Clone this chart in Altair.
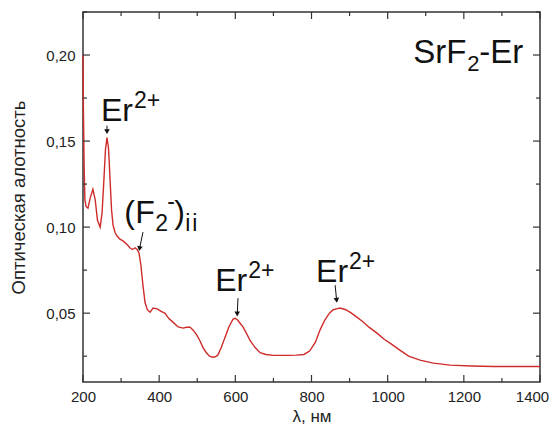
import altair as alt
import pandas as pd

# ---- spectrum data (nm, optical density) ----
wl = [200, 201, 203, 205, 208, 213, 219, 226, 232, 238, 245, 250, 255, 259, 263, 267, 271, 275,
      279, 284, 289, 297, 305, 315, 323, 330, 337, 342, 347, 352, 357, 363, 369, 376, 384, 395,
      405, 415, 425, 436, 450, 463, 472, 481, 490, 499, 507, 515, 524, 532, 539, 546, 554, 563,
      573, 583, 594, 600, 606, 613, 620, 630, 639, 652, 665, 680, 700, 720, 740, 760, 780, 795,
      810, 822, 835, 847, 857, 866, 875, 890, 905, 919, 935, 950, 972, 990, 1010, 1032, 1055,
      1085, 1120, 1164, 1220, 1280, 1340, 1400]
od = [0.200, 0.170, 0.135, 0.116, 0.112, 0.111, 0.117, 0.122, 0.116, 0.104, 0.100, 0.108, 0.128,
      0.145, 0.152, 0.146, 0.128, 0.110, 0.101, 0.097, 0.095, 0.093, 0.092, 0.090, 0.088, 0.087,
      0.088, 0.087, 0.085, 0.078, 0.067, 0.056, 0.052, 0.0505, 0.053, 0.0525, 0.051, 0.050, 0.047,
      0.0448, 0.042, 0.0413, 0.0418, 0.0419, 0.040, 0.0372, 0.034, 0.030, 0.027, 0.025, 0.0245,
      0.0245, 0.0256, 0.030, 0.036, 0.042, 0.0465, 0.047, 0.046, 0.044, 0.042, 0.038, 0.034,
      0.030, 0.027, 0.026, 0.0255, 0.0255, 0.0255, 0.0256, 0.026, 0.028, 0.033, 0.040, 0.046,
      0.050, 0.052, 0.0525, 0.053, 0.052, 0.050, 0.0477, 0.045, 0.042, 0.0384, 0.035, 0.032,
      0.0285, 0.025, 0.0227, 0.021, 0.0198, 0.0193, 0.019, 0.019, 0.019]

# ---- axis ticks ----
x_major = [200, 400, 600, 800, 1000, 1200, 1400]
x_minor = [300, 500, 700, 900, 1100, 1300]
y_major = [0.05, 0.10, 0.15, 0.20]
y_minor = [0.025, 0.075, 0.125, 0.175, 0.225]

# ---- annotation anchors (data units) ----
lab_name = ["er1", "f2", "er2", "er3", "title"]
lab_x = [247, 308, 547, 812, 1067]
lab_y = [0.1616, 0.1023, 0.0628, 0.068, 0.1953]

# ---- arrows (tail -> head, data units) ----
arr_x1 = [263, 357.5, 607, 862]
arr_y1 = [0.1590, 0.0971, 0.0587, 0.0663]
arr_x2 = [263, 348.5, 605, 866]
arr_y2 = [0.1555, 0.0875, 0.0495, 0.0575]
arr_angle = [0, 11, 0, 353]

FONT = "Liberation Sans"
RED = "#cf2b2b"
W, H = 457, 370
xs = alt.Scale(domain=[200, 1400], nice=False)
ys = alt.Scale(domain=[0.01, 0.225], nice=False)

spec = pd.DataFrame({"wl": wl, "od": od})
line = alt.Chart(spec).mark_line(color=RED, strokeWidth=1.4).encode(
    x=alt.X("wl:Q", scale=xs, title="λ, нм",
            axis=alt.Axis(values=x_major, format="d", ticks=False, domain=False, grid=False,
                          labelFontSize=15, labelFont=FONT, labelColor="#222",
                          labelPadding=7, labelFlush=False, labelOverlap=False,
                          labelOffset=alt.expr("datum.value == 1400 ? -8 : 0"),
                          titleFont=FONT, titleFontSize=17, titleFontWeight="normal",
                          titleColor="#222", titlePadding=4)),
    y=alt.Y("od:Q", scale=ys, title="Оптическая алотность",
            axis=alt.Axis(values=y_major, ticks=False, domain=False, grid=False,
                          labelExpr="replace(format(datum.value, '.2f'), '.', ',')",
                          labelFontSize=15, labelFont=FONT, labelColor="#222",
                          labelPadding=8, labelFlush=False,
                          titleFont=FONT, titleFontSize=18.5, titleFontWeight="normal",
                          titleColor="#222", titlePadding=17)),
)

def xticks(vals, length):
    d = pd.DataFrame({"t": vals})
    base = alt.Chart(d).mark_rule(color="#333", strokeWidth=1.2)
    bottom = base.encode(x=alt.X("t:Q", scale=xs), y=alt.value(H), y2=alt.value(H - length))
    top = base.encode(x=alt.X("t:Q", scale=xs), y=alt.value(0), y2=alt.value(length))
    return [bottom, top]

def yticks(vals, length):
    d = pd.DataFrame({"t": vals})
    base = alt.Chart(d).mark_rule(color="#333", strokeWidth=1.2)
    left = base.encode(y=alt.Y("t:Q", scale=ys), x=alt.value(0), x2=alt.value(length))
    right = base.encode(y=alt.Y("t:Q", scale=ys), x=alt.value(W), x2=alt.value(W - length))
    return [left, right]

ticks = xticks(x_major, 7) + xticks(x_minor, 4) + yticks(y_major, 7) + yticks(y_minor, 4)

arr = pd.DataFrame({"x1": arr_x1, "y1": arr_y1, "x2": arr_x2, "y2": arr_y2, "ang": arr_angle})
shafts = alt.Chart(arr).mark_rule(color="#111", strokeWidth=1).encode(
    x=alt.X("x1:Q", scale=xs), y=alt.Y("y1:Q", scale=ys),
    x2="x2:Q", y2="y2:Q")
heads = alt.Chart(arr).mark_point(shape="triangle-down", filled=True, color="#111",
                                  size=32, opacity=1).encode(
    x=alt.X("x2:Q", scale=xs), y=alt.Y("y2:Q", scale=ys),
    angle=alt.Angle("ang:Q", scale=None))

anchors = pd.DataFrame({"name": lab_name, "x": lab_x, "y": lab_y})

# text segments: (label, text, fontSize, dx, dy)
segments = [
    ("er1", "Er", 32, 0, 0), ("er1", "2+", 23, 33, -13),
    ("er2", "Er", 32, 0, 0), ("er2", "2+", 23, 33, -13),
    ("er3", "Er", 32, 0, 0), ("er3", "2+", 23, 33, -13),
    ("f2", "(", 32, 0, 0), ("f2", "F", 32, 11, 0), ("f2", "2", 23, 31, 8),
    ("f2", "-", 23, 43, -14), ("f2", ")", 32, 50, 0),
    ("f2", "i", 23, 61, 8), ("f2", "i", 23, 68, 8),
    ("title", "SrF", 33, 0, 0), ("title", "2", 22, 54, 8), ("title", "-Er", 33, 66, 0),
]
texts = []
for name, txt, fs, dx, dy in segments:
    texts.append(
        alt.Chart(anchors).transform_filter(alt.datum.name == name)
        .mark_text(text=txt, fontSize=fs, font=FONT, color="#111", align="left",
                   baseline="alphabetic", dx=dx, dy=dy)
        .encode(x=alt.X("x:Q", scale=xs), y=alt.Y("y:Q", scale=ys))
    )

chart = alt.layer(line, *ticks, shafts, heads, *texts).properties(
    width=W, height=H,
    autosize=alt.AutoSizeParams(type="none"),
    padding={"left": 75, "top": 4, "right": 9, "bottom": 44},
).configure_view(stroke="#333", strokeWidth=1.5)

chart.save("out.html", embed_options={"renderer": "svg", "actions": False})
